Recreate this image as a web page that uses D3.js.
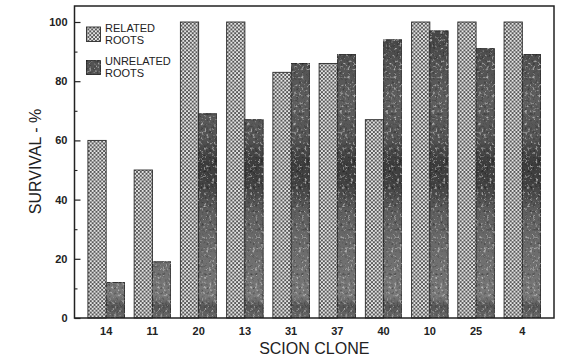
<!DOCTYPE html>
<html>
<head>
<meta charset="utf-8">
<script src="https://cdn.jsdelivr.net/npm/d3@7"></script>
<style>
  html, body { margin: 0; padding: 0; background: #fff; }
  svg { display: block; font-family: "Liberation Sans", Arial, Helvetica, sans-serif; }
</style>
</head>
<body>
<svg id="chart" width="566" height="358"></svg>
<script>
// Survival (%) of grafts by scion clone, on related vs unrelated rootstocks
const clones = ["14", "11", "20", "13", "31", "37", "40", "10", "25", "4"];
const relatedRoots = [60, 50, 100, 100, 83, 86, 67, 100, 100, 100];
const unrelatedRoots = [12, 19, 69, 67, 86, 89, 94, 97, 91, 89];
const seriesKeys = ["related", "unrelated"];
const legendLabels = [["RELATED", "ROOTS"], ["UNRELATED", "ROOTS"]];
const majorTicks = [0, 20, 40, 60, 80, 100];
const minorTicks = [10, 30, 50, 70, 90];

const svg = d3.select("#chart");
const plotL = 74.5, plotR = 554, plotT = 6, plotB = 318;

const x = d3.scaleBand().domain(clones).range([plotL, plotR])
  .paddingInner(0.21).paddingOuter(0.29);
const xs = d3.scaleBand().domain(seriesKeys).range([0, x.bandwidth()]);
const y = d3.scaleLinear().domain([0, 100]).range([plotB, 22]);

const defs = svg.append("defs");

// cross-hatch texture for related roots
const hatch = defs.append("pattern").attr("id", "hatch")
  .attr("patternUnits", "userSpaceOnUse").attr("width", 3.8).attr("height", 3.8);
hatch.append("rect").attr("width", 3.8).attr("height", 3.8).attr("fill", "#585858");
hatch.append("circle").attr("cx", 0.95).attr("cy", 0.95).attr("r", 1.0).attr("fill", "#fafafa");
hatch.append("circle").attr("cx", 2.85).attr("cy", 2.85).attr("r", 1.0).attr("fill", "#fafafa");

// mottled dark shading for unrelated roots
const shade = defs.append("linearGradient").attr("id", "shade")
  .attr("gradientUnits", "userSpaceOnUse")
  .attr("x1", 0).attr("y1", plotT).attr("x2", 0).attr("y2", plotB);
[[0, "#4a4a4a"], [0.1, "#474747"], [0.18, "#525252"], [0.3, "#5e5e5e"], [0.42, "#555"],
 [0.5, "#3d3d3d"], [0.58, "#444"], [0.66, "#5f5f5f"], [0.78, "#6c6c6c"],
 [0.88, "#747474"], [0.93, "#7a7a7a"], [0.965, "#555"], [1, "#6a6a6a"]]
  .forEach(([o, c]) => shade.append("stop").attr("offset", o).attr("stop-color", c));

// soft mottling: dark and light blotches from two independent noise channels
const grain = defs.append("filter").attr("id", "grain")
  .attr("x", 0).attr("y", 0).attr("width", 1).attr("height", 1);
grain.append("feTurbulence").attr("type", "fractalNoise")
  .attr("baseFrequency", 0.38).attr("numOctaves", 3).attr("seed", 7).attr("result", "noise");
grain.append("feColorMatrix").attr("in", "noise").attr("type", "matrix")
  .attr("values", "0 0 0 0 0  0 0 0 0 0  0 0 0 0 0  1.8 0 0 0 -0.95").attr("result", "dark");
grain.append("feColorMatrix").attr("in", "noise").attr("type", "matrix")
  .attr("values", "0 0 0 0 1  0 0 0 0 1  0 0 0 0 1  0 -1.5 0 0 0.62").attr("result", "light");
grain.append("feComposite").attr("in", "dark").attr("in2", "SourceGraphic")
  .attr("operator", "in").attr("result", "darkIn");
grain.append("feComposite").attr("in", "light").attr("in2", "SourceGraphic")
  .attr("operator", "in").attr("result", "lightIn");
const merge = grain.append("feMerge");
merge.append("feMergeNode").attr("in", "SourceGraphic");
merge.append("feMergeNode").attr("in", "darkIn");
merge.append("feMergeNode").attr("in", "lightIn");

const fills = { related: "url(#hatch)", unrelated: "url(#shade)" };

// bars
const rows = clones.map((c, i) => ({ clone: c, related: relatedRoots[i], unrelated: unrelatedRoots[i] }));
const groups = svg.append("g").selectAll("g").data(rows).join("g")
  .attr("transform", d => `translate(${x(d.clone)},0)`);
groups.selectAll("rect").data(d => seriesKeys.map(k => ({ key: k, value: d[k] }))).join("rect")
  .attr("x", d => xs(d.key))
  .attr("y", d => y(d.value))
  .attr("width", xs.bandwidth())
  .attr("height", d => y(0) - y(d.value))
  .attr("fill", d => fills[d.key])
  .attr("filter", d => d.key === "unrelated" ? "url(#grain)" : null)
  .attr("stroke", "#2a2a2a").attr("stroke-width", 0.9);

// frame
svg.append("rect").attr("x", plotL).attr("y", plotT)
  .attr("width", plotR - plotL).attr("height", plotB - plotT)
  .attr("fill", "none").attr("stroke", "#222").attr("stroke-width", 1.5);

// y axis (ticks point inward)
const yAxis = svg.append("g").attr("transform", `translate(${plotL},0)`)
  .call(d3.axisLeft(y).tickValues(majorTicks).tickSize(-6).tickPadding(7));
yAxis.select(".domain").remove();
yAxis.selectAll("line").attr("stroke", "#222").attr("stroke-width", 1.2);
yAxis.selectAll("text").attr("font-size", 11).attr("font-weight", "bold")
  .attr("fill", "#222").attr("font-family", "Liberation Sans, Arial, sans-serif");

const yMinor = svg.append("g").attr("transform", `translate(${plotL},0)`)
  .call(d3.axisLeft(y).tickValues(minorTicks).tickSize(-3).tickFormat(""));
yMinor.select(".domain").remove();
yMinor.selectAll("line").attr("stroke", "#222").attr("stroke-width", 1.1);

// x axis labels
const xAxis = svg.append("g").attr("transform", `translate(0,${plotB})`)
  .call(d3.axisBottom(x).tickSize(0).tickPadding(9));
xAxis.select(".domain").remove();
xAxis.selectAll("text").attr("font-size", 11).attr("font-weight", "bold")
  .attr("fill", "#222").attr("font-family", "Liberation Sans, Arial, sans-serif");

// axis titles
svg.append("text").attr("x", (plotL + plotR) / 2).attr("y", 353.5)
  .attr("text-anchor", "middle").attr("font-size", 16).attr("fill", "#222")
  .text("SCION CLONE");
svg.append("text").attr("transform", "translate(41,161.5) rotate(-90)")
  .attr("text-anchor", "middle").attr("font-size", 16).attr("fill", "#222")
  .text("SURVIVAL - %");

// legend
const legend = svg.append("g");
seriesKeys.forEach((k, i) => {
  const gy = 27 + i * 33;
  legend.append("rect").attr("x", 86.5).attr("y", gy).attr("width", 14).attr("height", 14.5)
    .attr("fill", fills[k]).attr("filter", k === "unrelated" ? "url(#grain)" : null)
    .attr("stroke", "#2a2a2a").attr("stroke-width", 0.9);
  legend.append("text").attr("x", 105).attr("y", gy + 4.8)
    .attr("font-size", 11).attr("fill", "#222")
    .selectAll("tspan").data(legendLabels[i]).join("tspan")
    .attr("x", 105).attr("dy", (d, j) => j === 0 ? 0 : 12.2).text(d => d);
});
</script>
</body>
</html>
